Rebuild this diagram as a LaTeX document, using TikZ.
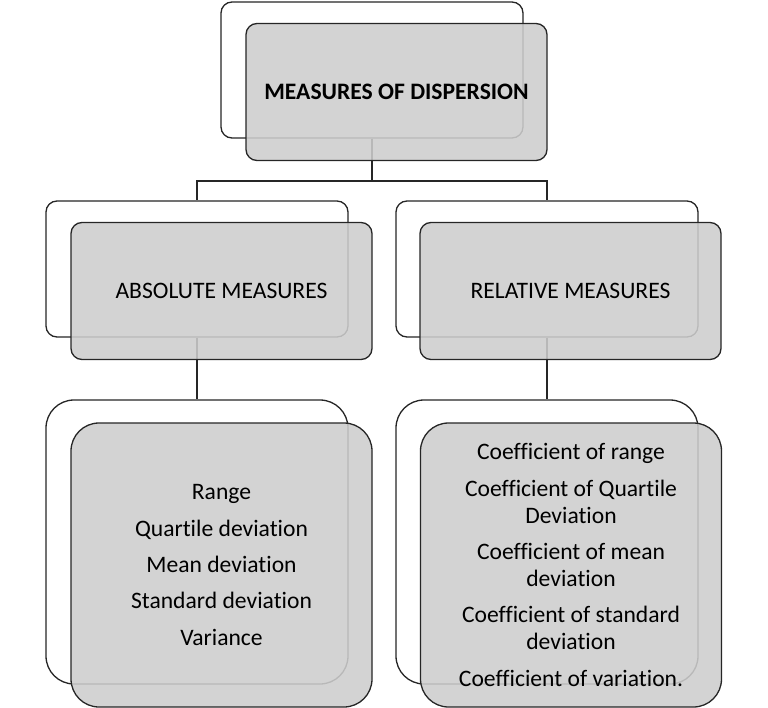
\documentclass[tikz,border=0pt]{standalone}
\usepackage{fontspec}
\setmainfont[Ligatures=NoCommon]{Carlito}
\begin{document}
\begin{tikzpicture}[x=1pt,y=-1pt,
  backbox/.style={draw=black!85, line width=1.3pt, fill=white, rounded corners=11pt, minimum width=302pt, minimum height=136pt, inner sep=0pt},
  frontbox/.style={draw=black!85, line width=1.3pt, fill={rgb,255:red,205;green,205;blue,205}, fill opacity=0.88, text opacity=1, rounded corners=11pt, minimum width=301pt, minimum height=137pt, inner sep=0pt, align=center, font=\fontsize{23.6}{27}\selectfont},
  bigback/.style={backbox, rounded corners=28pt, minimum height=284pt},
  bigfront/.style={frontbox, rounded corners=28pt, minimum height=284pt},
  conn/.style={draw=black!85, line width=1.3pt}]
\useasboundingbox (0,0) rectangle (768,708);
% back boxes
\node[backbox] (tb) at (372,70) {};
\node[backbox] (lb) at (197,269) {};
\node[backbox] (rb) at (547,269) {};
\node[bigback] (lbb) at (197,542) {};
\node[bigback] (rbb) at (547,542) {};
% connectors
\coordinate (j) at (372,181);
\draw[conn] (tb.south) -- (j) -| (lb.north);
\draw[conn] (j) -| (rb.north);
\draw[conn] (lb.south) -- (lbb.north);
\draw[conn] (rb.south) -- (rbb.north);
% front boxes
\node[frontbox] (tf) at (396.5,92) {\textbf{MEASURES OF DISPERSION}};
\node[frontbox] (lf) at (221.5,291) {ABSOLUTE MEASURES};
\node[frontbox] (rf) at (570.5,291) {RELATIVE MEASURES};
\node[bigfront] (lbf) at (221.5,565) {Range\\[9.3pt]Quartile deviation\\[9.3pt]Mean deviation\\[9.3pt]Standard deviation\\[9.3pt]Variance};
\node[bigfront] (rbf) at (571,565) {Coefficient of range\\[9.3pt]Coefficient of Quartile\\Deviation\\[9.3pt]Coefficient of mean\\deviation\\[9.3pt]Coefficient of standard\\deviation\\[9.3pt]Coefficient of variation.};
\end{tikzpicture}
\end{document}
